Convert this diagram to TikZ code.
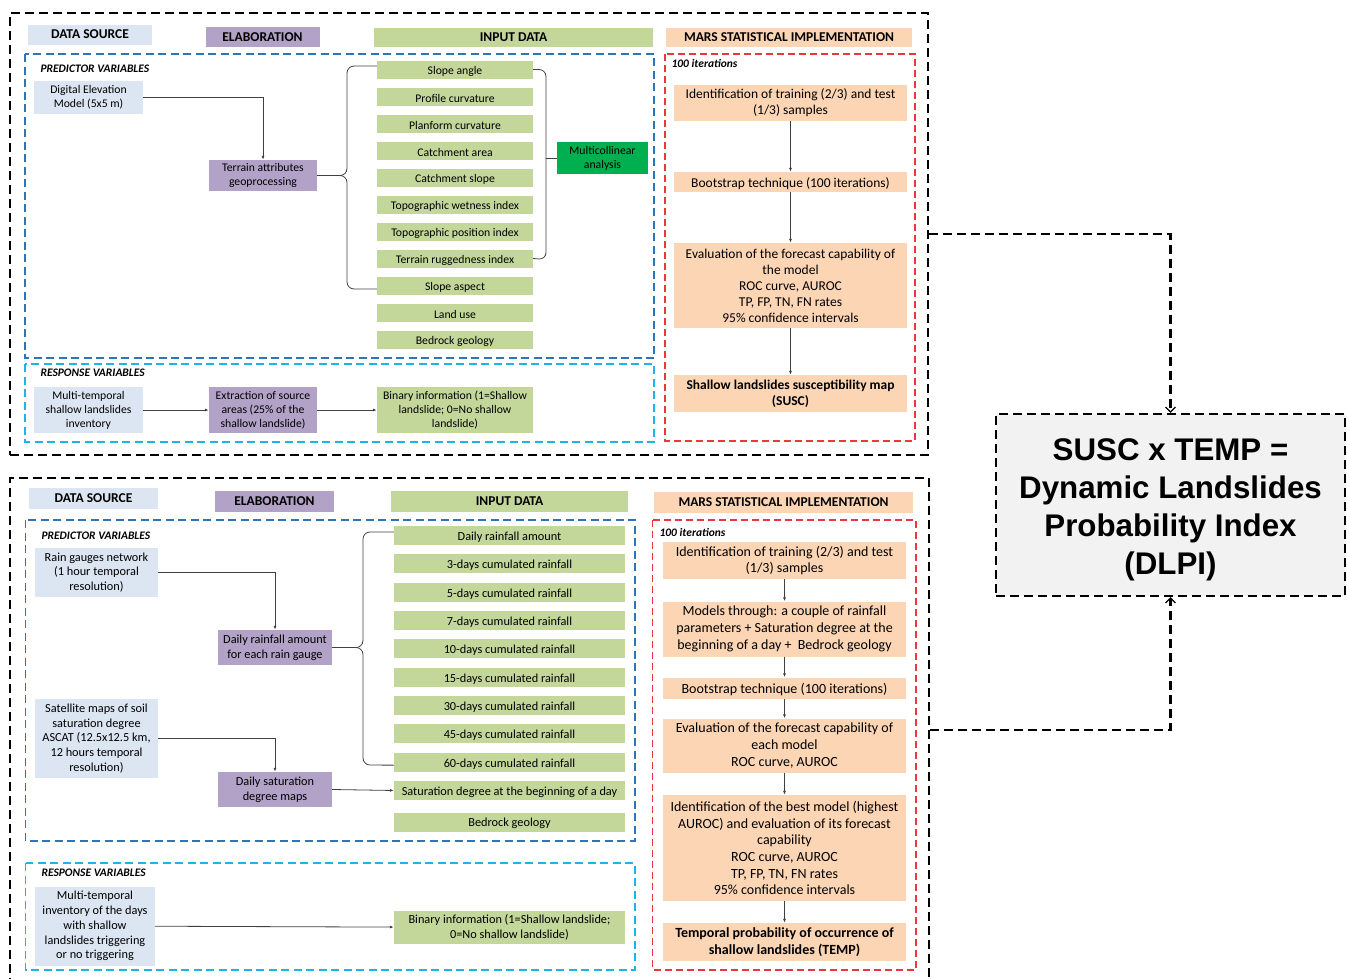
\documentclass[tikz,border=0pt]{standalone}
\usepackage{fontspec}
\setmainfont{Carlito}
\newfontfamily\dlpifont{Liberation Sans}
\usepackage{xcolor}
\usepackage{tikz}
\usetikzlibrary{arrows.meta}

\definecolor{srcblue}{HTML}{DCE6F2}
\definecolor{elapurple}{HTML}{B3A2C7}
\definecolor{ingreen}{HTML}{C4D79B}
\definecolor{marspeach}{HTML}{FCD5B5}
\definecolor{multigreen}{HTML}{00B050}
\definecolor{dlpigrey}{HTML}{F2F2F2}
\definecolor{predblue}{HTML}{2E75B6}
\definecolor{respcyan}{HTML}{1FB4E8}
\definecolor{marsred}{HTML}{E8383D}
\definecolor{linegrey}{HTML}{404040}

\newcommand\topfont{\fontsize{11.7}{14}\selectfont}
\newcommand\botfont{\fontsize{12.3}{14.8}\selectfont}
\newcommand\marsAfont{\fontsize{13.5}{16}\selectfont}
\newcommand\marsBfont{\fontsize{14}{16.7}\selectfont}
\newcommand\headfont{\fontsize{13.5}{16}\selectfont\bfseries}
\newcommand\varfont{\fontsize{11.5}{14}\selectfont\bfseries\itshape}

\tikzset{
  box/.style={inner sep=0pt, align=center},
  lowered/.style={execute at begin node={\rule{0pt}{0.95em}}},
  src/.style={box, lowered, fill=srcblue},
  ela/.style={box, lowered, fill=elapurple},
  inp/.style={box, lowered, fill=ingreen},
  mars/.style={box, lowered, fill=marspeach},
  head/.style={box, font=\headfont},
  outerframe/.style={draw=black, line width=2.2pt, dash pattern=on 9pt off 5pt},
  pred/.style={draw=predblue, line width=1.4pt, dash pattern=on 8pt off 4.5pt},
  resp/.style={draw=respcyan, line width=1.4pt, dash pattern=on 8pt off 4.5pt},
  marsframe/.style={draw=marsred, line width=1.2pt, dash pattern=on 7pt off 4pt},
  link/.style={draw=linegrey, line width=0.8pt, -{Latex[length=4pt,width=3pt]}},
  brace/.style={draw=linegrey, line width=0.8pt, rounded corners=7pt},
  bigarrow/.style={outerframe, -{Straight Barb[length=5pt,width=10pt,line width=1.2pt]}},
}

\begin{document}
\begin{tikzpicture}[x=1pt,y=-1pt]
\useasboundingbox (0,0) rectangle (1349,978);

% ---- susceptibility block
\node[outerframe, minimum width=918, minimum height=442] (topframe) at (469,234) {};
\node[head, fill=srcblue, minimum width=124, minimum height=20] (srcA) at (90,34.5) {DATA SOURCE};
\node[head, fill=elapurple, minimum width=114, minimum height=20] (elaA) at (262.5,37) {ELABORATION};
\node[head, fill=ingreen, minimum width=279, minimum height=19] (inA) at (513.5,37.5) {INPUT DATA};
\node[head, fill=marspeach, minimum width=246, minimum height=19] (marsA) at (789,37.5) {MARS STATISTICAL IMPLEMENTATION};

\draw[pred] (25,54) rectangle (654,358);
\node[anchor=west, font=\varfont] (predA) at (37,69) {PREDICTOR VARIABLES};
\node[src, font=\topfont, minimum width=109, minimum height=33] (dem) at (88.5,97.5) {Digital Elevation\\Model (5x5 m)};
\node[ela, font=\topfont, minimum width=108, minimum height=31] (terrain) at (263,175.5) {Terrain attributes\\geoprocessing};
\foreach \lbl [count=\i] in {Slope angle, Profile curvature, Planform curvature, Catchment area, Catchment slope, Topographic wetness index, Topographic position index, Terrain ruggedness index, Slope aspect, Land use, Bedrock geology}
  \node[inp, font=\topfont, minimum width=156, minimum height=18] (inA\i) at (455,{69.5+27*(\i-1)}) {\lbl};
\node[box, lowered, fill=multigreen, font=\topfont, minimum width=91, minimum height=32] (multi) at (602.5,158) {Multicollinear\\analysis};

\draw[link] (dem.east) -| (terrain.north);
\draw[brace] (terrain.east) -- (347,175.5) -- (347,66) -- ([yshift=3.5pt]inA1.west);
\draw[brace] (terrain.east) -- (347,175.5) -- (347,289) -- ([yshift=-3.5pt]inA9.west);
\draw[brace] (inA1.east) -- (546,69.5) -- (546,259.5) -- (inA8.east);
\draw[brace] (546,158) -- (multi.west);

\draw[resp] (25,364) rectangle (654,442);
\node[anchor=west, font=\varfont] (respA) at (37,373) {RESPONSE VARIABLES};
\node[src, font=\topfont, minimum width=109, minimum height=46] (invA) at (88.5,410) {Multi-temporal\\shallow landslides\\inventory};
\node[ela, font=\topfont, minimum width=108, minimum height=46] (extract) at (263,410) {Extraction of source\\areas (25\% of the\\shallow landslide)};
\node[inp, font=\topfont, minimum width=156, minimum height=46] (binA) at (455,410) {Binary information (1=Shallow\\landslide; 0=No shallow\\landslide)};
\draw[link] (invA) -- (extract);
\draw[link] (extract) -- (binA);

\draw[marsframe] (665,54) rectangle (915,441);
\node[anchor=west, font=\varfont] (iterA) at (668,63) {100 iterations};
\node[mars, font=\marsAfont, minimum width=233, minimum height=36] (mA1) at (790.5,102.5) {Identification of training (2/3) and test\\(1/3) samples};
\node[mars, font=\marsAfont, minimum width=233, minimum height=20] (mA2) at (790.5,182) {Bootstrap technique (100 iterations)};
\node[mars, font=\marsAfont, minimum width=233, minimum height=85] (mA3) at (790.5,285.5) {Evaluation of the forecast capability of\\the model\\ROC curve, AUROC\\TP, FP, TN, FN rates\\95\% confidence intervals};
\node[mars, font=\marsAfont\bfseries, minimum width=233, minimum height=37] (mA4) at (790.5,393.5) {Shallow landslides susceptibility map\\(SUSC)};
\foreach \a/\b in {mA1/mA2, mA2/mA3, mA3/mA4}
  \draw[link] (\a) -- (\b);

% ---- temporal block
\node[outerframe, minimum width=919, minimum height=504] (botframe) at (469.5,730) {};
\node[head, fill=srcblue, minimum width=129, minimum height=21] (srcB) at (93.5,498.5) {DATA SOURCE};
\node[head, fill=elapurple, minimum width=119, minimum height=21] (elaB) at (274.5,501.5) {ELABORATION};
\node[head, fill=ingreen, minimum width=237, minimum height=21] (inB) at (509.5,501.5) {INPUT DATA};
\node[head, fill=marspeach, minimum width=259, minimum height=21] (marsB) at (783.5,502) {MARS STATISTICAL IMPLEMENTATION};

\draw[pred] (25.7,520) rectangle (635,841);
\node[anchor=west, font=\varfont] (predB) at (38,535.5) {PREDICTOR VARIABLES};
\node[src, font=\botfont, minimum width=123, minimum height=49] (rain) at (96.5,572.5) {Rain gauges network\\(1 hour temporal\\resolution)};
\node[ela, font=\botfont, minimum width=114, minimum height=35] (rainday) at (275,647.5) {Daily rainfall amount\\for each rain gauge};
\node[src, font=\botfont, minimum width=123, minimum height=79] (sat) at (96.5,738.5) {Satellite maps of soil\\saturation degree\\ASCAT (12.5x12.5 km,\\12 hours temporal\\resolution)};
\node[ela, font=\botfont, minimum width=114, minimum height=35] (satday) at (275,789.5) {Daily saturation\\degree maps};
\foreach \lbl [count=\i] in {Daily rainfall amount, 3-days cumulated rainfall, 5-days cumulated rainfall, 7-days cumulated rainfall, 10-days cumulated rainfall, 15-days cumulated rainfall, 30-days cumulated rainfall, 45-days cumulated rainfall, 60-days cumulated rainfall, Saturation degree at the beginning of a day}
  \node[inp, font=\botfont, minimum width=231, minimum height=19] (inB\i) at (509.5,{535.5+28.33*(\i-1)}) {\lbl};
\node[inp, font=\botfont, minimum width=231, minimum height=19] (inB11) at (509.5,822) {Bedrock geology};

\draw[link] (rain.east) -| (rainday.north);
\draw[link] (sat.east) -| (satday.north);
\draw[link] (satday.east) -- (inB10.west);
\draw[brace] (rainday.east) -- (363,647.5) -- (363,532) -- ([yshift=3.5pt]inB1.west);
\draw[brace] (rainday.east) -- (363,647.5) -- (363,765) -- ([yshift=-3pt]inB9.west);

\draw[resp] (25.7,863) rectangle (635,970);
\node[anchor=west, font=\varfont] (respB) at (38,872.5) {RESPONSE VARIABLES};
\node[src, font=\botfont, minimum width=120, minimum height=79] (invB) at (95,926) {Multi-temporal\\inventory of the days\\with shallow\\landslides triggering\\or no triggering};
\node[inp, font=\botfont, minimum width=231, minimum height=33] (binB) at (509.5,927.5) {Binary information (1=Shallow landslide;\\0=No shallow landslide)};
\draw[link] (invB) -- (binB);

\draw[marsframe] (652.7,520) rectangle (916,970);
\node[anchor=west, font=\varfont] (iterB) at (656,532.5) {100 iterations};
\node[mars, font=\marsBfont, minimum width=243, minimum height=37.5] (mB1) at (784.5,560.5) {Identification of training (2/3) and test\\(1/3) samples};
\node[mars, font=\marsBfont, minimum width=243, minimum height=55] (mB2) at (784.5,629) {Models through: a couple of rainfall\\parameters + Saturation degree at the\\beginning of a day +~ Bedrock geology};
\node[mars, font=\marsBfont, minimum width=243, minimum height=21] (mB3) at (784.5,688) {Bootstrap technique (100 iterations)};
\node[mars, font=\marsBfont, minimum width=243, minimum height=54] (mB4) at (784.5,745.5) {Evaluation of the forecast capability of\\each model\\ROC curve, AUROC};
\node[mars, font=\marsBfont, minimum width=243, minimum height=106] (mB5) at (784.5,848) {Identification of the best model (highest\\AUROC) and evaluation of its forecast\\capability\\ROC curve, AUROC\\TP, FP, TN, FN rates\\95\% confidence intervals};
\node[mars, font=\marsBfont\bfseries, minimum width=243, minimum height=38] (mB6) at (784.5,942) {Temporal probability of occurrence of\\shallow landslides (TEMP)};
\foreach \a/\b in {mB1/mB2, mB2/mB3, mB3/mB4, mB4/mB5, mB5/mB6}
  \draw[link] (\a) -- (\b);

% ---- dynamic index
\node[box, draw=black, fill=dlpigrey, line width=2.2pt, dash pattern=on 9pt off 5pt, minimum width=349, minimum height=182, font=\dlpifont\bfseries\fontsize{31.3}{38}\selectfont] (dlpi) at (1170.5,505) {\rule{0pt}{31pt}SUSC x TEMP =\\Dynamic Landslides\\Probability Index\\(DLPI)};
\draw[bigarrow] (topframe.east) -| (dlpi.north);
\draw[bigarrow] (botframe.east) -| (dlpi.south);
\end{tikzpicture}
\end{document}
